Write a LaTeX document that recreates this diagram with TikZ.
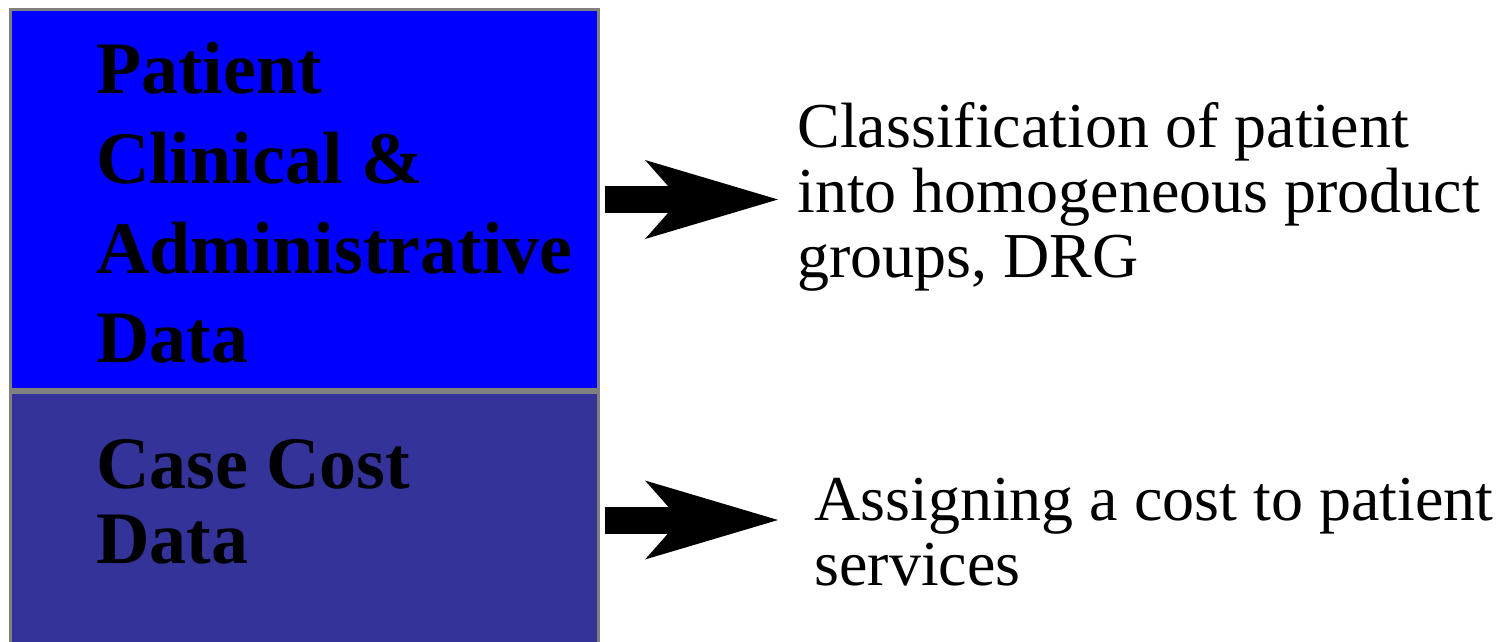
\documentclass[tikz,border=0pt]{standalone}
\usepackage{fontspec}
\setmainfont{Liberation Serif}
\usetikzlibrary{arrows.meta}
\definecolor{databoxblue}{RGB}{0,0,255}
\definecolor{costboxblue}{RGB}{51,51,153}
\definecolor{boxgray}{RGB}{128,128,128}
\tikzstyle{databox} = [rectangle, draw=boxgray, line width=1.5pt, minimum width=294pt, text width=208.5pt, align=flush left, inner sep=0, text height=0pt, font=\bfseries\fontsize{37pt}{44.8pt}\selectfont]
\tikzstyle{outcome} = [rectangle, text width=360pt, align=flush left, inner sep=0, anchor=base west, font=\fontsize{32pt}{32.5pt}\selectfont]
\tikzstyle{bigarrow} = [line width=13.5pt, -{Stealth[length=66.5pt, width=39.5pt, inset=17.5pt, line width=0pt]}, shorten <=2.25pt]

\begin{document}
\begin{tikzpicture}[x=0.5pt, y=-0.5pt]
\clip (0,0) rectangle (1501,642);

\node (patbox) [databox, fill=databoxblue, minimum height=190pt, text depth=105.5pt] at (304.5,199.5) {Patient\\Clinical \&\\Administrative\\Data};
\node (costbox) [databox, fill=costboxblue, minimum height=153.75pt, text depth=58.25pt, font=\bfseries\fontsize{37pt}{37.5pt}\selectfont] at (304.5,546.25) {Case Cost\\Data};

\node (classtext) [outcome] at (797,148) {Classification of patient\\into homogeneous product\\groups, DRG};
\draw [bigarrow, shorten >=9.5pt] (patbox.east) -- (patbox.east -| classtext.west);

\node (costtext) [outcome] at (814,520) {Assigning a cost to patient\\services};
\draw [bigarrow, shorten >=18pt] (costbox.east |- costtext.base) -- (costtext.base west);

\end{tikzpicture}
\end{document}
